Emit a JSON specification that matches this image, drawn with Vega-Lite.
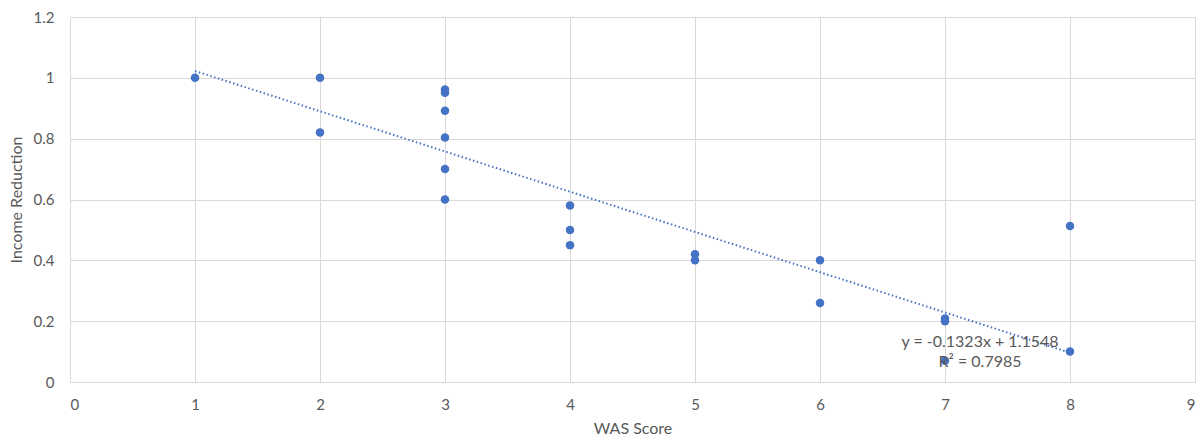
{
  "$schema": "https://vega.github.io/schema/vega-lite/v6.json",
  "autosize": "none",
  "width": 1125,
  "height": 365,
  "padding": {"left": 70, "top": 17, "right": 6, "bottom": 59},
  "background": "white",
  "config": {
    "view": {"stroke": null},
    "font": "Lato",
    "axis": {"labelFont": "Lato", "titleFont": "Lato", "labelColor": "#595959", "titleColor": "#595959", "labelFontSize": 15, "titleFontSize": 16, "titleFontWeight": "normal", "gridColor": "#d9d9d9", "gridWidth": 1, "ticks": false}
  },
  "datasets": {
    "pts": [
      {"was": 1, "inc": 1.0},
      {"was": 2, "inc": 1.0},
      {"was": 2, "inc": 0.82},
      {"was": 3, "inc": 0.962},
      {"was": 3, "inc": 0.951},
      {"was": 3, "inc": 0.892},
      {"was": 3, "inc": 0.804},
      {"was": 3, "inc": 0.70},
      {"was": 3, "inc": 0.60},
      {"was": 4, "inc": 0.58},
      {"was": 4, "inc": 0.50},
      {"was": 4, "inc": 0.45},
      {"was": 5, "inc": 0.42},
      {"was": 5, "inc": 0.40},
      {"was": 6, "inc": 0.40},
      {"was": 6, "inc": 0.26},
      {"was": 7, "inc": 0.209},
      {"was": 7, "inc": 0.20},
      {"was": 7, "inc": 0.07},
      {"was": 8, "inc": 0.513},
      {"was": 8, "inc": 0.10}
    ],
    "trend": [
      {"was": 1, "inc": 1.0225},
      {"was": 8, "inc": 0.0964}
    ],
    "labels": [
      {"was": 7.28, "inc": 0.131, "text": "y = -0.1323x + 1.1548"},
      {"was": 7.28, "inc": 0.066, "text": "R² = 0.7985"}
    ]
  },
  "layer": [
    {
      "data": {"name": "pts"},
      "mark": {"type": "circle", "size": 72, "color": "#4472C4", "opacity": 1},
      "encoding": {
        "x": {"field": "was", "type": "quantitative", "title": "WAS Score",
              "scale": {"domain": [0, 9], "nice": false, "zero": false},
              "axis": {"values": [0,1,2,3,4,5,6,7,8,9], "format": "d", "labelPadding": 15, "titlePadding": 8, "domain": true, "domainColor": "#d9d9d9", "grid": true}},
        "y": {"field": "inc", "type": "quantitative", "title": "Income Reduction",
              "scale": {"domain": [0, 1.2], "nice": false},
              "axis": {"values": [0,0.2,0.4,0.6,0.8,1,1.2], "labelPadding": 16, "titlePadding": 9, "domain": false, "grid": true, "labelExpr": "datum.value == 0 ? '0' : format(datum.value, '.1~f')"}}
      }
    },
    {
      "data": {"name": "trend"},
      "mark": {"type": "line", "color": "#4472C4", "strokeWidth": 2, "strokeDash": [1.5, 2.5]},
      "encoding": {
        "x": {"field": "was", "type": "quantitative"},
        "y": {"field": "inc", "type": "quantitative"}
      }
    },
    {
      "data": {"name": "labels"},
      "mark": {"type": "text", "color": "#595959", "fontSize": 16, "font": "Lato", "align": "center", "baseline": "middle"},
      "encoding": {
        "x": {"field": "was", "type": "quantitative"},
        "y": {"field": "inc", "type": "quantitative"},
        "text": {"field": "text"}
      }
    }
  ]
}
